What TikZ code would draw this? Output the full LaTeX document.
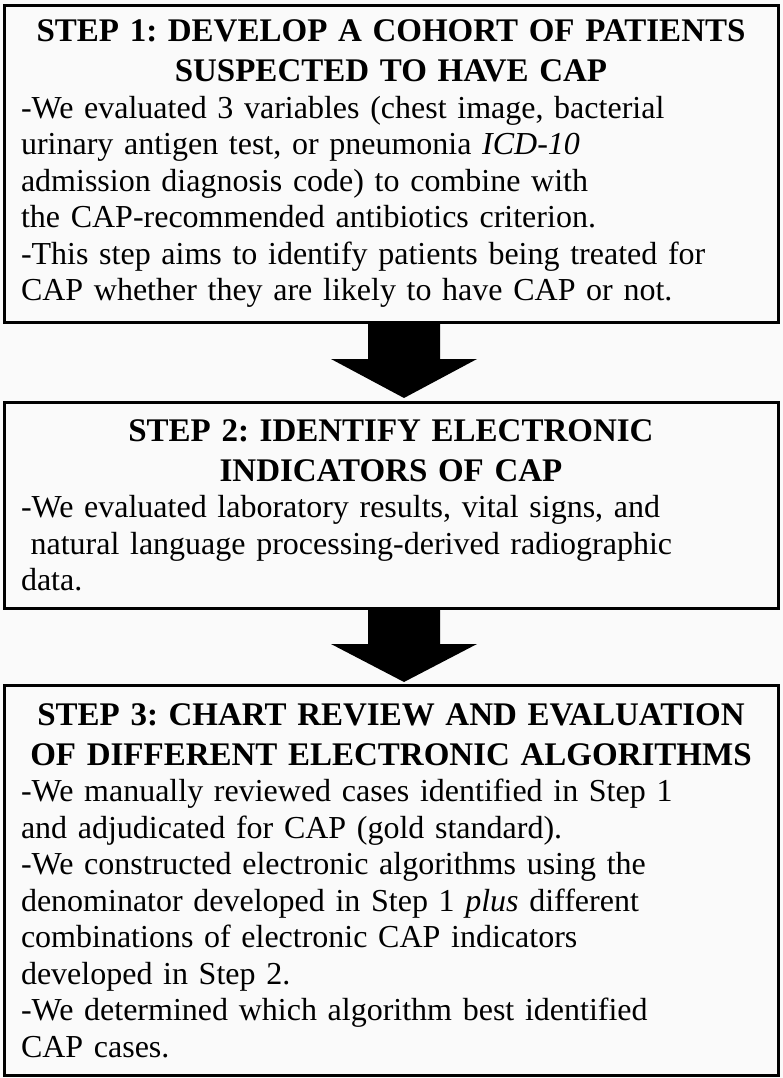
\documentclass[tikz,border=0pt]{standalone}
\usepackage{fontspec}
\setmainfont{Liberation Serif}
\usetikzlibrary{calc}
\frenchspacing
\definecolor{pagecolor}{HTML}{FAFAFA}
\newcommand{\steptitle}[1]{{\centering\fontsize{33}{40}\selectfont\bfseries #1\par}}

\begin{document}
\begin{tikzpicture}[x=1pt, y=1pt,
    stepbox/.style={draw, line width=3pt, fill=pagecolor, anchor=north,
        minimum width=774pt, text width=740pt, inner xsep=17pt, inner ysep=0pt,
        align=left, font=\fontsize{32}{36.5}\selectfont}]

    % Page
    \useasboundingbox (0,0) rectangle (783,-1078);
    \fill[pagecolor] (0,0) rectangle (783,-1078);

    % Step 1
    \node[stepbox, minimum height=317pt] (s1) at (391,-4) {%
        \steptitle{STEP 1: DEVELOP A COHORT OF PATIENTS\\ SUSPECTED TO HAVE CAP}
        -We evaluated 3 variables (chest image, bacterial\\
        urinary antigen test, or pneumonia \textit{ICD-10}\\
        admission diagnosis code) to combine with\\
        the CAP-recommended antibiotics criterion.\\
        -This step aims to identify patients being treated for\\
        CAP whether they are likely to have CAP or not.};

    % Step 2
    \node[stepbox, minimum height=206pt] (s2) at (391,-401) {%
        \steptitle{STEP 2: IDENTIFY ELECTRONIC\\ INDICATORS OF CAP}
        -We evaluated laboratory results, vital signs, and\\
        \hspace*{0.3em}natural language processing-derived radiographic\\
        data.};

    % Step 3
    \node[stepbox, minimum height=390pt] (s3) at (391,-684) {%
        \steptitle{STEP 3: CHART REVIEW AND EVALUATION\\ OF DIFFERENT ELECTRONIC ALGORITHMS}
        -We manually reviewed cases identified in Step 1\\
        and adjudicated for CAP (gold standard).\\
        -We constructed electronic algorithms using the\\
        denominator developed in Step 1 \textit{plus} different\\
        combinations of electronic CAP indicators\\
        developed in Step 2.\\
        -We determined which algorithm best identified\\
        CAP cases.};

    % Arrows (a little right of the box centre)
    \fill ($(s1.south)+(-23,0)$) -- ($(s2.north)+(-23,42)$) -- ($(s2.north)+(-60,42)$)
        -- ($(s2.north)+(13,3)$) -- ($(s2.north)+(86,42)$) -- ($(s2.north)+(49,42)$)
        -- ($(s1.south)+(49,0)$) -- cycle;
    \fill ($(s2.south)+(-23,0)$) -- ($(s3.north)+(-23,40)$) -- ($(s3.north)+(-60,40)$)
        -- ($(s3.north)+(13,2)$) -- ($(s3.north)+(86,40)$) -- ($(s3.north)+(49,40)$)
        -- ($(s2.south)+(49,0)$) -- cycle;

\end{tikzpicture}
\end{document}
